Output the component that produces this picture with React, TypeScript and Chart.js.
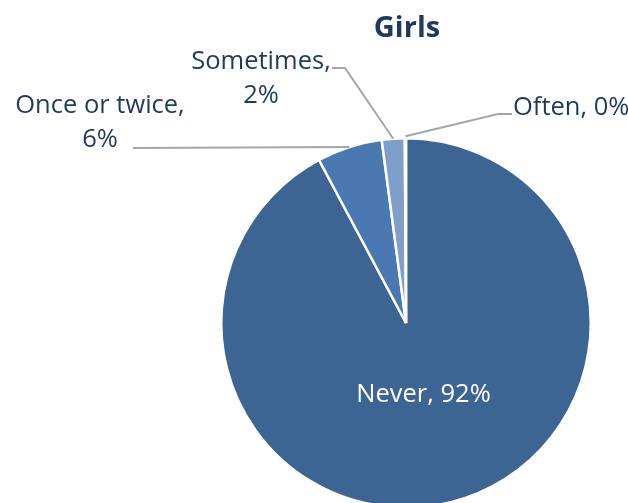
import React, { useEffect, useRef } from "react";
import { Chart, registerables } from "chart.js";

Chart.register(...registerables);

const categories = ["Never", "Once or twice", "Sometimes", "Often"];
const values = [92.2, 5.7, 2.0, 0.1];
const shownPercents = ["92%", "6%", "2%", "0%"];
const colors = ["#3C6593", "#4A79B1", "#809ECA", "#FFFFFF"];

const TEXT_COLOR = "#1F3A5E";
const LINE_COLOR = "#A6A6A6";
const FONT = "'Open Sans', 'Noto Sans', sans-serif";

const labelPlugin = {
  id: "pieLabels",
  afterDatasetsDraw(chart: any) {
    const ctx = chart.ctx;
    const meta = chart.getDatasetMeta(0);
    const arcs = meta.data;
    if (!arcs.length) return;
    const cx = arcs[0].x;
    const cy = arcs[0].y;
    const R = arcs[0].outerRadius;
    const anchor = (i: number, f = 1) => {
      const a = arcs[i];
      const mid = (a.startAngle + a.endAngle) / 2;
      return [cx + Math.cos(mid) * R * f, cy + Math.sin(mid) * R * f];
    };
    ctx.save();
    ctx.font = `25.5px ${FONT}`;
    ctx.textBaseline = "alphabetic";

    // Never (inside)
    {
      const [x, y] = anchor(0, 0.39);
      ctx.fillStyle = "#FFFFFF";
      ctx.textAlign = "center";
      ctx.fillText(`${categories[0]}, ${shownPercents[0]}`, x, y + 9);
    }

    ctx.strokeStyle = LINE_COLOR;
    ctx.lineWidth = 2;

    // Once or twice
    {
      const [ax, ay] = anchor(1);
      ctx.beginPath();
      ctx.moveTo(cx - 273, cy - 175);
      ctx.lineTo(ax, ay);
      ctx.stroke();
      ctx.fillStyle = TEXT_COLOR;
      ctx.textAlign = "center";
      ctx.fillText(`${categories[1]},`, cx - 306, cy - 210);
      ctx.fillText(shownPercents[1], cx - 306, cy - 176);
    }

    // Sometimes
    {
      const [ax, ay] = anchor(2);
      ctx.beginPath();
      ctx.moveTo(cx - 74, cy - 255);
      ctx.lineTo(cx - 61, cy - 255);
      ctx.lineTo(ax, ay);
      ctx.stroke();
      ctx.fillStyle = TEXT_COLOR;
      ctx.textAlign = "center";
      ctx.fillText(`${categories[2]},`, cx - 145, cy - 254);
      ctx.fillText(shownPercents[2], cx - 145, cy - 220);
    }

    // Often
    {
      const [ax, ay] = anchor(3);
      ctx.beginPath();
      ctx.moveTo(ax, ay - 2);
      ctx.lineTo(cx + 92, cy - 209);
      ctx.lineTo(cx + 106, cy - 209);
      ctx.stroke();
      ctx.fillStyle = TEXT_COLOR;
      ctx.textAlign = "left";
      ctx.fillText(`${categories[3]}, ${shownPercents[3]}`, cx + 107, cy - 208);
    }

    // Title
    ctx.font = `bold 29px ${FONT}`;
    ctx.fillStyle = TEXT_COLOR;
    ctx.textAlign = "center";
    ctx.fillText("Girls", cx + 1, 37);
    ctx.restore();
  },
};

export default function App() {
  const ref = useRef<HTMLCanvasElement | null>(null);
  useEffect(() => {
    document.body.style.margin = "0";
    const chart = new Chart(ref.current!, {
      type: "pie",
      data: {
        labels: categories,
        datasets: [
          {
            data: values,
            backgroundColor: colors,
            borderColor: "#FFFFFF",
            borderWidth: 2.5,
          },
        ],
      },
      options: {
        responsive: false,
        animation: false,
        devicePixelRatio: 1,
        layout: { padding: { left: 220, right: 36, top: 137, bottom: 11 } },
        plugins: {
          legend: { display: false },
          tooltip: { enabled: false },
          title: { display: false },
        },
      },
      plugins: [labelPlugin],
    });
    return () => chart.destroy();
  }, []);
  return (
    <div
      style={{
        position: "fixed",
        top: 0,
        left: 0,
        width: 628,
        height: 503,
        overflow: "hidden",
        background: "#FFFFFF",
      }}
    >
      <canvas ref={ref} width={628} height={520} style={{ display: "block" }} />
    </div>
  );
}
